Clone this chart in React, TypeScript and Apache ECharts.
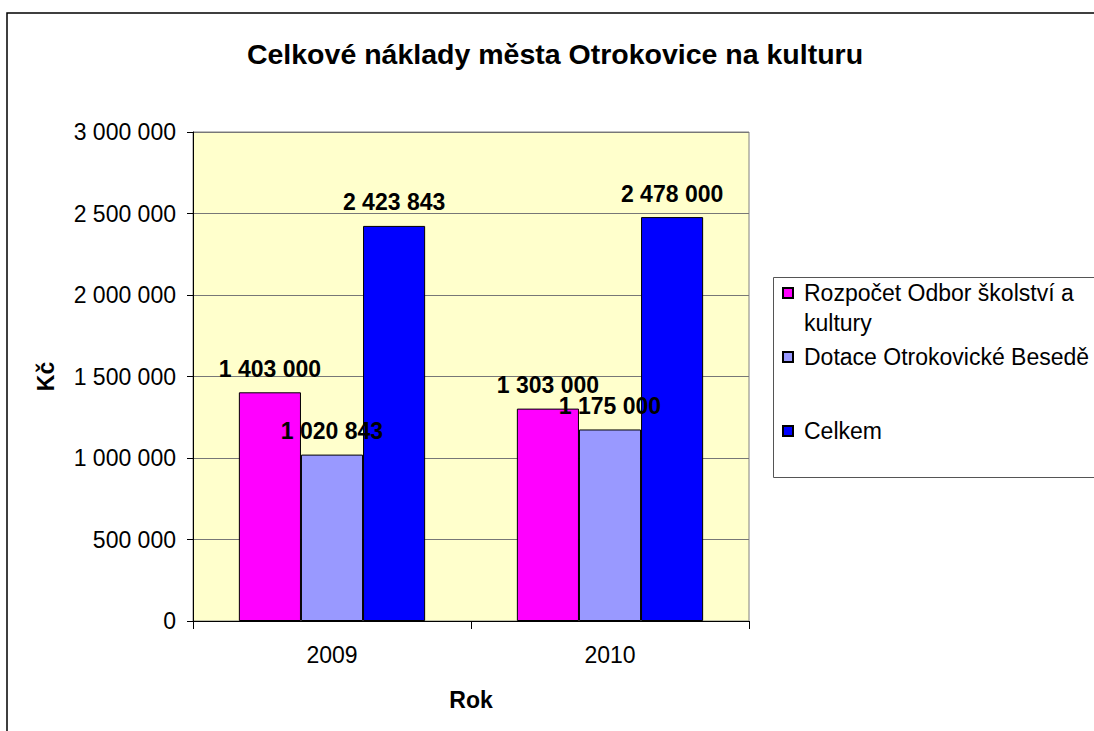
import React, { useEffect, useRef } from 'react';
import * as echarts from 'echarts';

const categories = ['2009', '2010'];
const seriesNames = ['Rozpočet Odbor školství a kultury', 'Dotace Otrokovické Besedě', 'Celkem'];
const rozpocet = [1403000, 1303000];
const dotace = [1020843, 1175000];
const celkem = [2423843, 2478000];
const seriesColors = ['#FF00FF', '#9999FF', '#0000FF'];
const titleText = 'Celkové náklady města Otrokovice na kulturu';
const yAxisName = 'Kč';
const xAxisName = 'Rok';

const fmt = (n: number) => String(n).replace(/\B(?=(\d{3})+(?!\d))/g, ' ');
const FONT = '"Liberation Sans", Arial, sans-serif';

export default function App() {
  const ref = useRef<HTMLDivElement>(null);
  useEffect(() => {
    document.body.style.margin = '0';
    const chart = echarts.init(ref.current!, null, { renderer: 'svg' });
    const values = [rozpocet, dotace, celkem];
    const legendTops = [248, 343, 417];
    chart.setOption({
      animation: false,
      backgroundColor: '#ffffff',
      textStyle: { fontFamily: FONT, color: '#000' },
      title: {
        text: titleText,
        left: 555,
        top: 39,
        textAlign: 'center',
        padding: 0,
        textStyle: { fontFamily: FONT, fontSize: 28.5, fontWeight: 'bold', color: '#000' },
      },
      graphic: [
        {
          type: 'rect',
          shape: { x: 7, y: 13, width: 1100, height: 730 },
          style: { fill: 'none', stroke: '#000', lineWidth: 1.5 },
          silent: true,
          z: -10,
        },
        {
          type: 'rect',
          shape: { x: 773.5, y: 277.5, width: 330, height: 200 },
          style: { fill: '#fff', stroke: '#555', lineWidth: 1 },
          silent: true,
          z: -5,
        },
      ],
      legend: seriesNames.map((name, i) => ({
        data: [name],
        orient: 'vertical',
        left: 782,
        top: legendTops[i],
        padding: 0,
        itemWidth: 10,
        itemHeight: 10,
        icon: 'rect',
        selectedMode: false,
        formatter: (n: string) => (i === 0 ? '\nRozpočet Odbor školství a\nkultury' : n),
        textStyle: {
          fontFamily: FONT,
          fontSize: 23,
          lineHeight: i === 0 ? 30 : 28,
          color: '#000',
          padding: [0, 0, 0, 6],
        },
      })),
      grid: {
        left: 193,
        top: 132,
        right: 345,
        bottom: 110,
        show: true,
        backgroundColor: '#FFFFCC',
        borderColor: '#808080',
        borderWidth: 1,
      },
      xAxis: {
        type: 'category',
        data: categories,
        name: xAxisName,
        nameLocation: 'middle',
        nameGap: 67,
        nameTextStyle: { fontFamily: FONT, fontSize: 23, fontWeight: 'bold', color: '#000' },
        axisLine: { lineStyle: { color: '#000', width: 1 } },
        axisTick: { show: true, alignWithLabel: false, length: 8, lineStyle: { color: '#000' } },
        axisLabel: { fontFamily: FONT, fontSize: 23, color: '#000', margin: 22 },
      },
      yAxis: {
        type: 'value',
        min: 0,
        max: 3000000,
        interval: 500000,
        name: yAxisName,
        nameLocation: 'middle',
        nameRotate: 90,
        nameGap: 136,
        nameTextStyle: { fontFamily: FONT, fontSize: 23, fontWeight: 'bold', color: '#000' },
        axisLine: { show: true, lineStyle: { color: '#000', width: 1 } },
        axisTick: { show: true, length: 6, lineStyle: { color: '#000' } },
        axisLabel: { fontFamily: FONT, fontSize: 23, color: '#000', margin: 17, formatter: (v: number) => fmt(v) },
        splitLine: { show: true, lineStyle: { color: '#777', width: 1 } },
      },
      series: seriesNames.map((name, i) => ({
        name,
        type: 'bar',
        data: values[i],
        barGap: '0%',
        barCategoryGap: '33%',
        itemStyle: { color: seriesColors[i], borderColor: '#000', borderWidth: 1 },
        label: {
          show: true,
          position: 'top',
          distance: 12,
          fontFamily: FONT,
          fontSize: 23,
          fontWeight: 'bold',
          color: '#000',
          formatter: (p: any) => fmt(p.value),
        },
      })),
    });
    return () => chart.dispose();
  }, []);
  return <div ref={ref} style={{ position: 'fixed', left: 0, top: 0, width: 1094, height: 731 }} />;
}
